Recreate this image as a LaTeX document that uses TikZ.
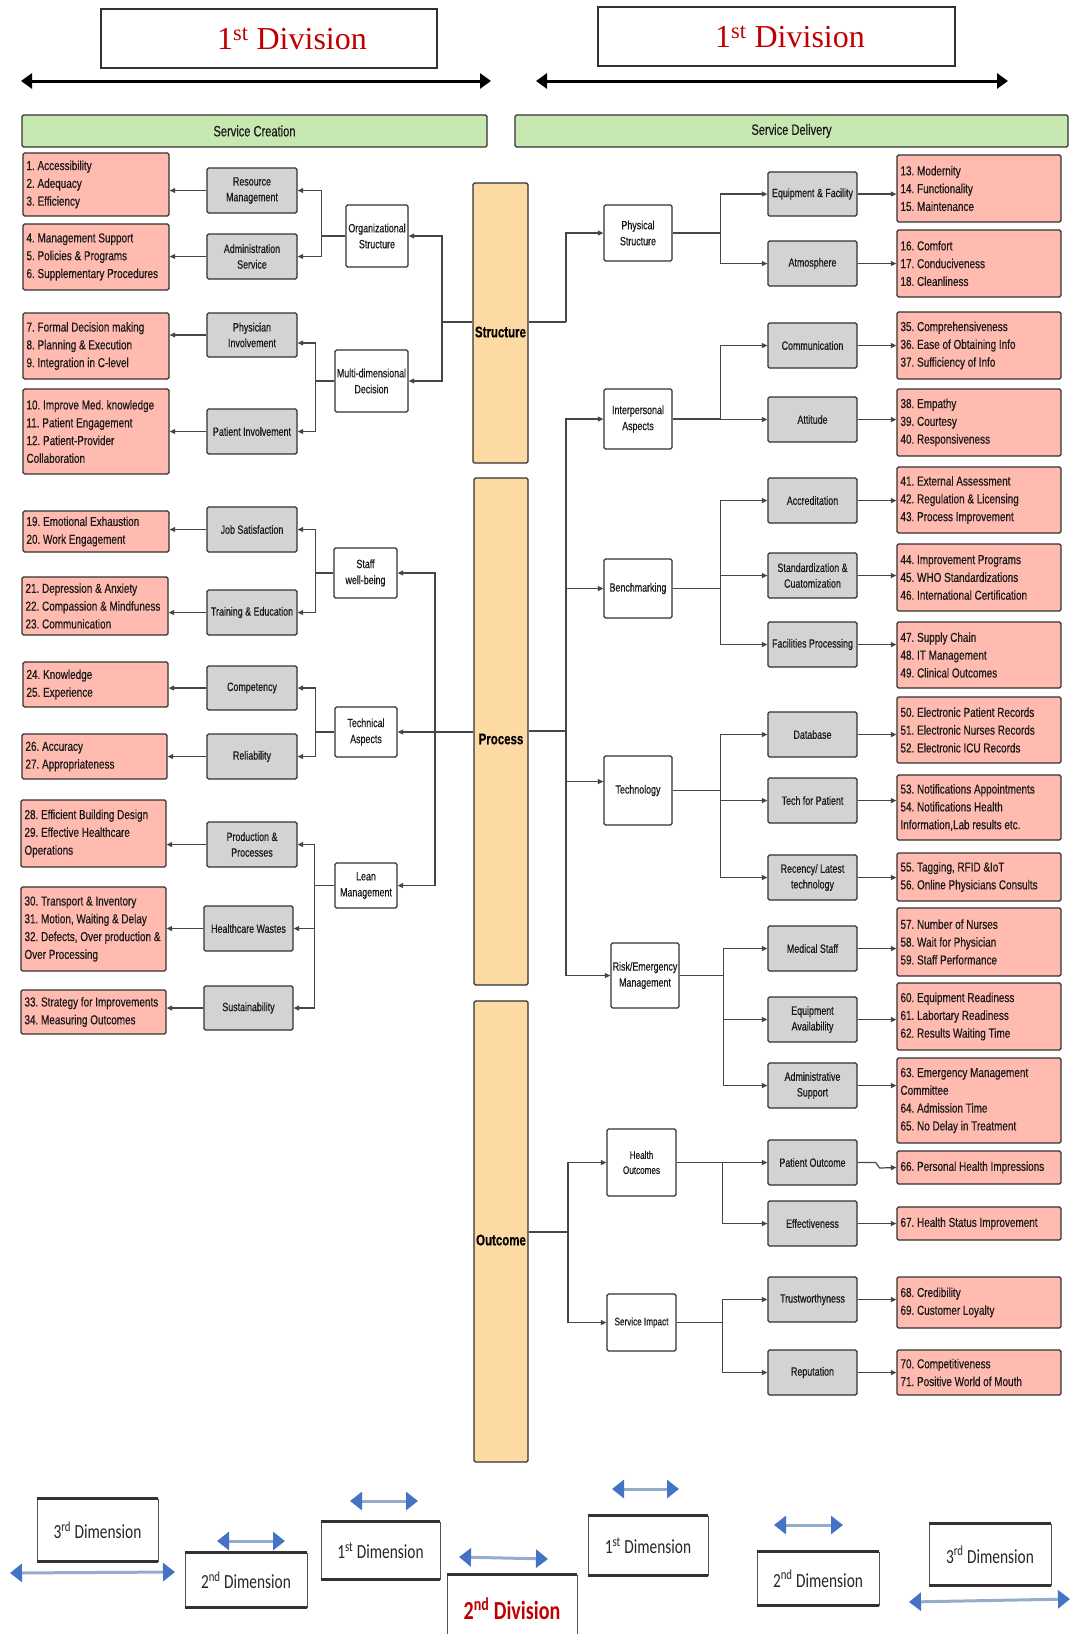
\documentclass[tikz,border=0pt]{standalone}
\usepackage{fontspec}
\setmainfont{Liberation Serif}
\newfontfamily\nsans[FakeStretch=0.74,FakeBold=0.4]{Liberation Sans}
\newfontfamily\psans[FakeStretch=0.765,FakeBold=0.4]{Liberation Sans}
\newfontfamily\csans[FakeStretch=0.77]{Carlito}
\usetikzlibrary{arrows.meta}
\frenchspacing

\definecolor{pinkfill}{RGB}{255,187,176}
\definecolor{grayfill}{RGB}{211,211,211}
\definecolor{orangefill}{RGB}{253,218,164}
\definecolor{greenfill}{RGB}{200,232,178}
\definecolor{linecol}{RGB}{70,70,70}
\definecolor{bordercol}{RGB}{50,50,50}
\definecolor{divred}{RGB}{192,0,0}
\definecolor{headblue}{RGB}{68,114,196}
\definecolor{shaftblue}{RGB}{150,172,205}
\definecolor{textcol}{RGB}{25,25,25}

% box placed by its corners: style, name, x1, y1, x2, y2, text
\newcommand\mkbox[7]{%
  \pgfmathsetmacro\bw{#5-#3}%
  \pgfmathsetmacro\bh{#6-#4}%
  \pgfmathsetmacro\btw{#5-#3-7}%
  \pgfmathsetmacro\bcx{(#3+#5)/2}%
  \pgfmathsetmacro\bcy{(#4+#6)/2}%
  \node[#1, minimum width=\bw pt, minimum height=\bh pt] (#2) at (\bcx,\bcy) {#7};}

\tikzset{
  basebox/.style={draw=bordercol, line width=1.3pt, rounded corners=1.5pt, text=textcol},
  pinkbox/.style={basebox, fill=pinkfill, inner xsep=3.5pt, inner ysep=0pt, align=flush left,
    text width=\btw pt, font={\psans\fontsize{13}{17.8}\selectfont}},
  graybox/.style={basebox, fill=grayfill, inner sep=0pt, align=center,
    font={\nsans\fontsize{12}{15.7}\selectfont}},
  whitebox/.style={basebox, fill=white, inner sep=0pt, align=center,
    font={\nsans\fontsize{12}{16}\selectfont}},
  smallwhite/.style={whitebox, font={\nsans\fontsize{11}{15}\selectfont}},
  orangebox/.style={basebox, fill=orangefill, inner sep=0pt},
  olabel/.style={inner sep=0pt, text=black, font={\nsans\bfseries\fontsize{15.5}{18}\selectfont}},
  greenbar/.style={basebox, fill=greenfill, inner sep=0pt, font={\nsans\fontsize{15}{18}\selectfont}},
  divbox/.style={draw=bordercol, line width=1.8pt, fill=white, inner sep=0pt},
  divtext/.style={inner sep=0pt, text=divred, font={\fontsize{32}{36}\selectfont}},
  dimbox/.style={draw=bordercol!85, line width=0.9pt, fill=white, inner sep=0pt,
    font={\csans\fontsize{20}{24}\selectfont}, text=black!85},
  dimedge/.style={draw=bordercol, line width=2.2pt},
  div2box/.style={dimbox, text=divred, font={\csans\bfseries\fontsize{26}{30}\selectfont}},
  ln/.style={draw=linecol, line width=1.2pt},
  arr/.style={ln, -{Triangle[length=5.5pt,width=5pt]}},
  bigarrow/.style={draw=black, line width=3pt,
    {Triangle[length=11pt,width=15pt]}-{Triangle[length=11pt,width=15pt]}},
  bluearrow/.style={draw=shaftblue, line width=3pt,
    {Triangle[length=12pt,width=18pt,color=headblue]}-{Triangle[length=12pt,width=18pt,color=headblue]}},
}

\begin{document}
\begin{tikzpicture}[x=1pt,y=-1pt]
\useasboundingbox[fill=white] (0,0) rectangle (1070,1634);

% ---------- division headers ----------
\mkbox{divbox}{d1}{101}{9}{437}{68}{}
\node[divtext] (d1t) at (292,39) {1\textsuperscript{st} Division};
\mkbox{divbox}{d2}{598}{7}{955}{66}{}
\node[divtext] (d2t) at (790,37) {1\textsuperscript{st} Division};

\coordinate (a1l) at (21,81);  \coordinate (a1r) at (491,81);
\coordinate (a2l) at (536,81); \coordinate (a2r) at (1008,81);
\draw[bigarrow] (a1l) -- (a1r);
\draw[bigarrow] (a2l) -- (a2r);

\mkbox{greenbar}{sc}{22}{115}{487}{147}{Service Creation}
\mkbox{greenbar}{sd}{515}{115}{1068}{147}{Service Delivery}

% ---------- central pillars ----------
\mkbox{orangebox}{oStr}{473}{183}{528}{463}{}
\mkbox{orangebox}{oPro}{474}{478}{528}{985}{}
\mkbox{orangebox}{oOut}{474}{1001}{528}{1462}{}
\node[olabel] (oStrT) at (500.5,332) {Structure};
\node[olabel] (oProT) at (501,739) {Process};
\node[olabel] (oOutT) at (501,1240) {Outcome};

% ---------- left: service creation ----------
\mkbox{pinkbox}{p1}{23}{153}{169}{216}{1. Accessibility\\2. Adequacy\\3. Efficiency}
\mkbox{pinkbox}{p4}{23}{224}{169}{290}{4. Management Support\\5. Policies \& Programs\\6. Supplementary Procedures}
\mkbox{pinkbox}{p7}{23}{313}{169}{379}{7. Formal Decision making\\8. Planning \& Execution\\9. Integration in C-level}
\mkbox{pinkbox}{p10}{23}{389}{169}{474}{10. Improve Med. knowledge\\11. Patient Engagement\\12. Patient-Provider\\Collaboration}
\mkbox{pinkbox}{p19}{23}{511}{169}{552}{19. Emotional Exhaustion\\20. Work Engagement}
\mkbox{pinkbox}{p21}{22}{577}{168}{635}{21. Depression \& Anxiety\\22. Compassion \& Mindfuness\\23. Communication}
\mkbox{pinkbox}{p24}{23}{662}{168}{707}{24. Knowledge\\25. Experience}
\mkbox{pinkbox}{p26}{22}{734}{167}{779}{26. Accuracy\\27. Appropriateness}
\mkbox{pinkbox}{p28}{21}{800}{166}{867}{28. Efficient Building Design\\29. Effective Healthcare\\Operations}
\mkbox{pinkbox}{p30}{21}{887}{166}{971}{30. Transport \& Inventory\\31. Motion, Waiting \& Delay\\32. Defects, Over production \&\\Over Processing}
\mkbox{pinkbox}{p33}{21}{990}{166}{1034}{33. Strategy for Improvements\\34. Measuring Outcomes}

\mkbox{graybox}{gRes}{207}{168}{297}{213}{Resource\\Management}
\mkbox{graybox}{gAdm}{207}{234}{297}{279}{Administration\\Service}
\mkbox{graybox}{gPhy}{207}{313}{297}{357}{Physician\\Involvement}
\mkbox{graybox}{gPat}{207}{409}{297}{454}{Patient Involvement}
\mkbox{graybox}{gJob}{207}{507}{297}{552}{Job Satisfaction}
\mkbox{graybox}{gTra}{207}{590}{297}{635}{Training \& Education}
\mkbox{graybox}{gCom}{207}{666}{297}{710}{Competency}
\mkbox{graybox}{gRel}{207}{734}{297}{779}{Reliability}
\mkbox{graybox}{gPro}{207}{822}{297}{867}{Production \&\\Processes}
\mkbox{graybox}{gWas}{204}{906}{293}{951}{Healthcare Wastes}
\mkbox{graybox}{gSus}{204}{986}{293}{1030}{Sustainability}

\mkbox{whitebox}{wOrg}{346}{205}{408}{267}{Organizational\\Structure}
\mkbox{whitebox}{wMul}{335}{350}{408}{412}{Multi-dimensional\\Decision}
\mkbox{whitebox}{wSta}{334}{548}{397}{598}{Staff\\well-being}
\mkbox{whitebox}{wTec}{335}{707}{397}{757}{Technical\\Aspects}
\mkbox{whitebox}{wLea}{335}{863}{397}{908}{Lean\\Management}

% pillar to second level (left)
\coordinate (jS) at (442,322);
\draw[ln] (oStr.west |- jS) -- (jS);
\draw[arr] (jS) |- (wOrg);
\draw[arr] (jS) |- (wMul);
\coordinate (jP) at (435,732);
\draw[arr] (oPro.west |- jP) -- (wTec);
\draw[arr] (jP) |- (wSta);
\draw[arr] (jP) |- (wLea);

% second level to third level (left)
\coordinate (jO) at ([xshift=-24pt]wOrg.west);
\draw[ln] (wOrg) -- (jO);
\draw[arr] (jO) |- (gRes);
\draw[arr] (jO) |- (gAdm);
\coordinate (jM) at ([xshift=-19pt]wMul.west);
\draw[ln] (wMul) -- (jM);
\draw[arr] (jM) |- ([yshift=-8pt]gPhy.east);
\draw[arr] (jM) |- (gPat);
\coordinate (jSt) at ([xshift=-18pt]wSta.west);
\draw[ln] (wSta) -- (jSt);
\draw[arr] (jSt) |- (gJob);
\draw[arr] (jSt) |- (gTra);
\coordinate (jTe) at ([xshift=-19pt]wTec.west);
\draw[ln] (wTec) -- (jTe);
\draw[arr] (jTe) |- (gCom);
\draw[arr] (jTe) |- (gRel);
\coordinate (jLe) at ([xshift=-20pt]wLea.west);
\draw[ln] (wLea) -- (jLe);
\draw[arr] (jLe) |- (gPro);
\draw[arr] (jLe) |- (gWas);
\draw[arr] (jLe) |- (gSus);

% third level to items (left)
\draw[arr] (gRes) -- (gRes -| p1.east);
\draw[arr] (gAdm) -- (gAdm -| p4.east);
\draw[arr] (gPhy) -- (gPhy -| p7.east);
\draw[arr] (gPat) -- (gPat -| p10.east);
\draw[arr] (gJob) -- (gJob -| p19.east);
\draw[arr] (gTra) -- (gTra -| p21.east);
\draw[arr] (gCom) -- (gCom -| p24.east);
\draw[arr] (gRel) -- (gRel -| p26.east);
\draw[arr] (gPro) -- (gPro -| p28.east);
\draw[arr] (gWas) -- (gWas -| p30.east);
\draw[arr] (gSus) -- (gSus -| p33.east);

% ---------- right: service delivery ----------
\mkbox{whitebox}{wPhys}{604}{205}{672}{261}{Physical\\Structure}
\mkbox{whitebox}{wInt}{604}{389}{672}{449}{Interpersonal\\Aspects}
\mkbox{whitebox}{wBen}{604}{559}{672}{618}{Benchmarking}
\mkbox{whitebox}{wTech}{604}{756}{672}{825}{Technology}
\mkbox{whitebox}{wRisk}{611}{943}{679}{1008}{Risk/Emergency\\Management}
\mkbox{smallwhite}{wHea}{607}{1129}{676}{1196}{Health\\Outcomes}
\mkbox{smallwhite}{wSer}{607}{1294}{676}{1351}{Service Impact}

\mkbox{graybox}{gEq}{768}{172}{857}{216}{Equipment \& Facility}
\mkbox{graybox}{gAt}{768}{241}{857}{286}{Atmosphere}
\mkbox{graybox}{gCm}{768}{323}{857}{368}{Communication}
\mkbox{graybox}{gAtt}{768}{397}{857}{442}{Attitude}
\mkbox{graybox}{gAcc}{768}{478}{857}{523}{Accreditation}
\mkbox{graybox}{gStd}{768}{553}{857}{598}{Standardization \&\\Cuatomization}
\mkbox{graybox}{gFac}{768}{622}{857}{667}{Facilities Processing}
\mkbox{graybox}{gDb}{768}{712}{857}{757}{Database}
\mkbox{graybox}{gTp}{768}{778}{857}{823}{Tech for Patient}
\mkbox{graybox}{gRec}{768}{855}{857}{900}{Recency/ Latest\\technology}
\mkbox{graybox}{gMed}{768}{926}{857}{971}{Medical Staff}
\mkbox{graybox}{gEqa}{768}{997}{857}{1042}{Equipment\\Availability}
\mkbox{graybox}{gAds}{768}{1063}{857}{1108}{Administrative\\Support}
\mkbox{graybox}{gPo}{768}{1140}{857}{1185}{Patient Outcome}
\mkbox{graybox}{gEf}{768}{1201}{857}{1246}{Effectiveness}
\mkbox{graybox}{gTr}{768}{1277}{857}{1322}{Trustworthyness}
\mkbox{graybox}{gRep}{768}{1350}{857}{1395}{Reputation}

\mkbox{pinkbox}{p13}{897}{155}{1061}{222}{13. Modernity\\14. Functionality\\15. Maintenance}
\mkbox{pinkbox}{p16}{897}{230}{1061}{297}{16. Comfort\\17. Conduciveness\\18. Cleanliness}
\mkbox{pinkbox}{p35}{897}{312}{1061}{379}{35. Comprehensiveness\\36. Ease of Obtaining Info\\37. Sufficiency of Info}
\mkbox{pinkbox}{p38}{897}{389}{1061}{456}{38. Empathy\\39. Courtesy\\40. Responsiveness}
\mkbox{pinkbox}{p41}{897}{467}{1061}{533}{41. External Assessment\\42. Regulation \& Licensing\\43. Process Improvement}
\mkbox{pinkbox}{p44}{897}{544}{1061}{611}{44. Improvement Programs\\45. WHO Standardizations\\46. International Certification}
\mkbox{pinkbox}{p47}{897}{622}{1061}{688}{47. Supply Chain\\48. IT Management\\49. Clinical Outcomes}
\mkbox{pinkbox}{p50}{897}{697}{1061}{763}{50. Electronic Patient Records\\51. Electronic Nurses Records\\52. Electronic ICU Records}
\mkbox{pinkbox}{p53}{897}{775}{1061}{840}{53. Notifications Appointments\\54. Notifications Health\\Information,Lab results etc.}
\mkbox{pinkbox}{p55}{897}{853}{1061}{901}{55. Tagging, RFID \&IoT\\56. Online Physicians Consults}
\mkbox{pinkbox}{p57}{897}{908}{1061}{976}{57. Number of Nurses\\58. Wait for Physician\\59. Staff Performance}
\mkbox{pinkbox}{p60}{897}{983}{1061}{1050}{60. Equipment Readiness\\61. Labortary Readiness\\62. Results Waiting Time}
\mkbox{pinkbox}{p63}{897}{1058}{1061}{1143}{63. Emergency Management\\Committee\\64. Admission Time\\65. No Delay in Treatment}
\mkbox{pinkbox}{p66}{897}{1151}{1061}{1184}{66. Personal Health Impressions}
\mkbox{pinkbox}{p67}{897}{1207}{1061}{1240}{67. Health Status Improvement}
\mkbox{pinkbox}{p68}{897}{1277}{1061}{1328}{68. Credibility\\69. Customer Loyalty}
\mkbox{pinkbox}{p70}{897}{1350}{1061}{1395}{70. Competitiveness\\71. Positive World of Mouth}

% pillars to second level (right)
\coordinate (jR) at (566,322);
\draw[ln] (oStr.east |- jR) -- (jR);
\draw[arr] (jR) |- (wPhys);
\coordinate (jQ) at (566,731);
\draw[ln] (oPro.east |- jQ) -- (jQ);
\draw[arr] (jQ) |- (wInt);
\draw[arr] (jQ) |- (wBen);
\draw[arr] (jQ) |- ([yshift=9pt]wTech.west);
\draw[arr] (jQ) |- (wRisk);
\coordinate (jU) at (568,1232);
\draw[ln] (oOut.east |- jU) -- (jU);
\draw[arr] (jU) |- (wHea);
\draw[arr] (jU) |- (wSer);

% second level to third level (right)
\coordinate (jPh) at ([xshift=48pt]wPhys.east);
\draw[ln] (wPhys) -- (jPh);
\draw[arr] (jPh) |- (gEq);
\draw[arr] (jPh) |- (gAt);
\coordinate (jIn) at ([xshift=48pt]wInt.east);
\draw[ln] (wInt) -- (jIn);
\draw[arr] (jIn) |- (gCm);
\draw[arr] (jIn) |- (gAtt);
\coordinate (jBe) at ([xshift=48pt]wBen.east);
\draw[ln] (wBen) -- (jBe);
\draw[arr] (jBe) |- (gAcc);
\draw[arr] (jBe) |- (gStd);
\draw[arr] (jBe) |- (gFac);
\coordinate (jTc) at ([xshift=48pt]wTech.east);
\draw[ln] (wTech) -- (jTc);
\draw[arr] (jTc) |- (gDb);
\draw[arr] (jTc) |- (gTp);
\draw[arr] (jTc) |- (gRec);
\coordinate (jRi) at ([xshift=44pt]wRisk.east);
\draw[ln] (wRisk) -- (jRi);
\draw[arr] (jRi) |- (gMed);
\draw[arr] (jRi) |- (gEqa);
\draw[arr] (jRi) |- (gAds);
\coordinate (jHe) at ([xshift=46pt]wHea.east);
\draw[ln] (wHea) -- (jHe);
\draw[arr] (jHe) |- (gPo);
\draw[arr] (jHe) |- (gEf);
\coordinate (jSe) at ([xshift=46pt]wSer.east);
\draw[ln] (wSer) -- (jSe);
\draw[arr] (jSe) |- (gTr);
\draw[arr] (jSe) |- (gRep);

% third level to items (right)
\draw[arr] (gEq) -- (gEq -| p13.west);
\draw[arr] (gAt) -- (gAt -| p16.west);
\draw[arr] (gCm) -- (gCm -| p35.west);
\draw[arr] (gAtt) -- (gAtt -| p38.west);
\draw[arr] (gAcc) -- (gAcc -| p41.west);
\draw[arr] (gStd) -- (gStd -| p44.west);
\draw[arr] (gFac) -- (gFac -| p47.west);
\draw[arr] (gDb) -- (gDb -| p50.west);
\draw[arr] (gTp) -- (gTp -| p53.west);
\draw[arr] (gRec) -- (gRec -| p55.west);
\draw[arr] (gMed) -- (gMed -| p57.west);
\draw[arr] (gEqa) -- (gEqa -| p60.west);
\draw[arr] (gAds) -- (gAds -| p63.west);
\draw[arr] (gPo.east) -- ++(18,0) -- ++(4,5.5) -- (p66.west);
\draw[arr] (gEf) -- (gEf -| p67.west);
\draw[arr] (gTr) -- (gTr -| p68.west);
\draw[arr] (gRep) -- (gRep -| p70.west);

% ---------- dimension strip ----------
\mkbox{dimbox}{b3L}{37}{1499}{158}{1561}{3\textsuperscript{rd} Dimension}
\mkbox{dimbox}{b2L}{185}{1553}{307}{1607}{2\textsuperscript{nd} Dimension}
\mkbox{dimbox}{b1L}{321}{1522}{440}{1579}{1\textsuperscript{st} Dimension}
\mkbox{div2box}{bDiv}{447}{1575}{577}{1642}{2\textsuperscript{nd} Division}
\mkbox{dimbox}{b1R}{588}{1516}{708}{1575}{1\textsuperscript{st} Dimension}
\mkbox{dimbox}{b2R}{757}{1552}{879}{1605}{2\textsuperscript{nd} Dimension}
\mkbox{dimbox}{b3R}{929}{1524}{1051}{1585}{3\textsuperscript{rd} Dimension}
\foreach \n in {b3L,b2L,b1L,bDiv,b1R,b2R,b3R}
  \draw[dimedge] (\n.north west) -- (\n.north east) (\n.south west) -- (\n.south east);

\coordinate (e1l) at (10,1573);  \coordinate (e1r) at (175,1572);
\coordinate (e2l) at (217,1541); \coordinate (e2r) at (285,1541);
\coordinate (e3l) at (350,1501); \coordinate (e3r) at (418,1501);
\coordinate (e4l) at (459,1557); \coordinate (e4r) at (548,1559);
\coordinate (e5l) at (612,1489); \coordinate (e5r) at (679,1489);
\coordinate (e6l) at (774,1525); \coordinate (e6r) at (843,1525);
\coordinate (e7l) at (909,1602); \coordinate (e7r) at (1070,1599);
\foreach \k in {1,...,7}
  \draw[bluearrow] (e\k l) -- (e\k r);
\end{tikzpicture}
\end{document}
